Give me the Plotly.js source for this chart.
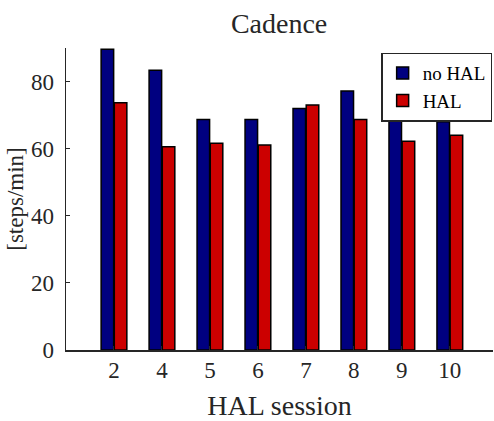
<!DOCTYPE html>
<html>
<head>
<meta charset="utf-8">
<script src="https://cdn.plot.ly/plotly-3.0.1.min.js"></script>
<style>html,body{margin:0;padding:0;background:#fff;}#chart{width:494px;height:421px;}</style>
</head>
<body>
<div id="chart"></div>
<script>
var sessions = ["2", "4", "5", "6", "7", "8", "9", "10"];
var noHAL = [89.6, 83.4, 68.7, 68.7, 72.0, 77.2, 69.6, 68.0];
var withHAL = [73.7, 60.6, 61.6, 61.1, 73.0, 68.7, 62.2, 64.0];

var fontFam = "'Liberation Serif', 'Times New Roman', serif";
var traces = [
  {type: "bar", name: "no HAL", x: sessions, y: noHAL,
   marker: {color: "#000080", line: {color: "#000000", width: 1.5}}},
  {type: "bar", name: "HAL", x: sessions, y: withHAL,
   marker: {color: "#cc0000", line: {color: "#000000", width: 1.5}}}
];
var layout = {
  width: 494, height: 421,
  margin: {l: 66, r: 1, t: 48, b: 71, autoexpand: false},
  paper_bgcolor: "#fff", plot_bgcolor: "#fff",
  barmode: "group", bargap: 0.45, bargroupgap: 0.05,
  font: {family: fontFam, color: "#262626", size: 22},
  title: {text: "Cadence", font: {family: fontFam, size: 28, color: "#262626"}, x: 0.565, xanchor: "center", y: 0.945, yanchor: "middle"},
  xaxis: {type: "category", range: [-1, 7.9], showline: true, linecolor: "#262626", linewidth: 1.5,
          ticks: "inside", ticklen: 4, tickcolor: "#262626", showgrid: false, zeroline: false,
          ticklabelstandoff: -1, automargin: false,
          tickfont: {family: fontFam, size: 23, color: "#262626"},
          title: {text: "HAL session", font: {family: fontFam, size: 28, color: "#262626"}, standoff: 14}},
  yaxis: {range: [0, 90], tickvals: [0, 20, 40, 60, 80], showline: true, linecolor: "#262626", linewidth: 1.5,
          ticks: "inside", ticklen: 4, tickcolor: "#262626", showgrid: false, zeroline: false,
          ticklabelstandoff: 6, automargin: false,
          tickfont: {family: fontFam, size: 23, color: "#262626"},
          title: {text: "[steps/min]", font: {family: fontFam, size: 23, color: "#262626"}, standoff: 1}},
  showlegend: true,
  legend: {x: 0.998, y: 0.985, xanchor: "right", yanchor: "top", bgcolor: "#fff", bordercolor: "#262626", borderwidth: 1.5,
           font: {family: fontFam, size: 19, color: "#000"}, itemwidth: 30, tracegroupgap: 0}
};
Plotly.newPlot("chart", traces, layout, {displayModeBar: false, staticPlot: true});
</script>
</body>
</html>
